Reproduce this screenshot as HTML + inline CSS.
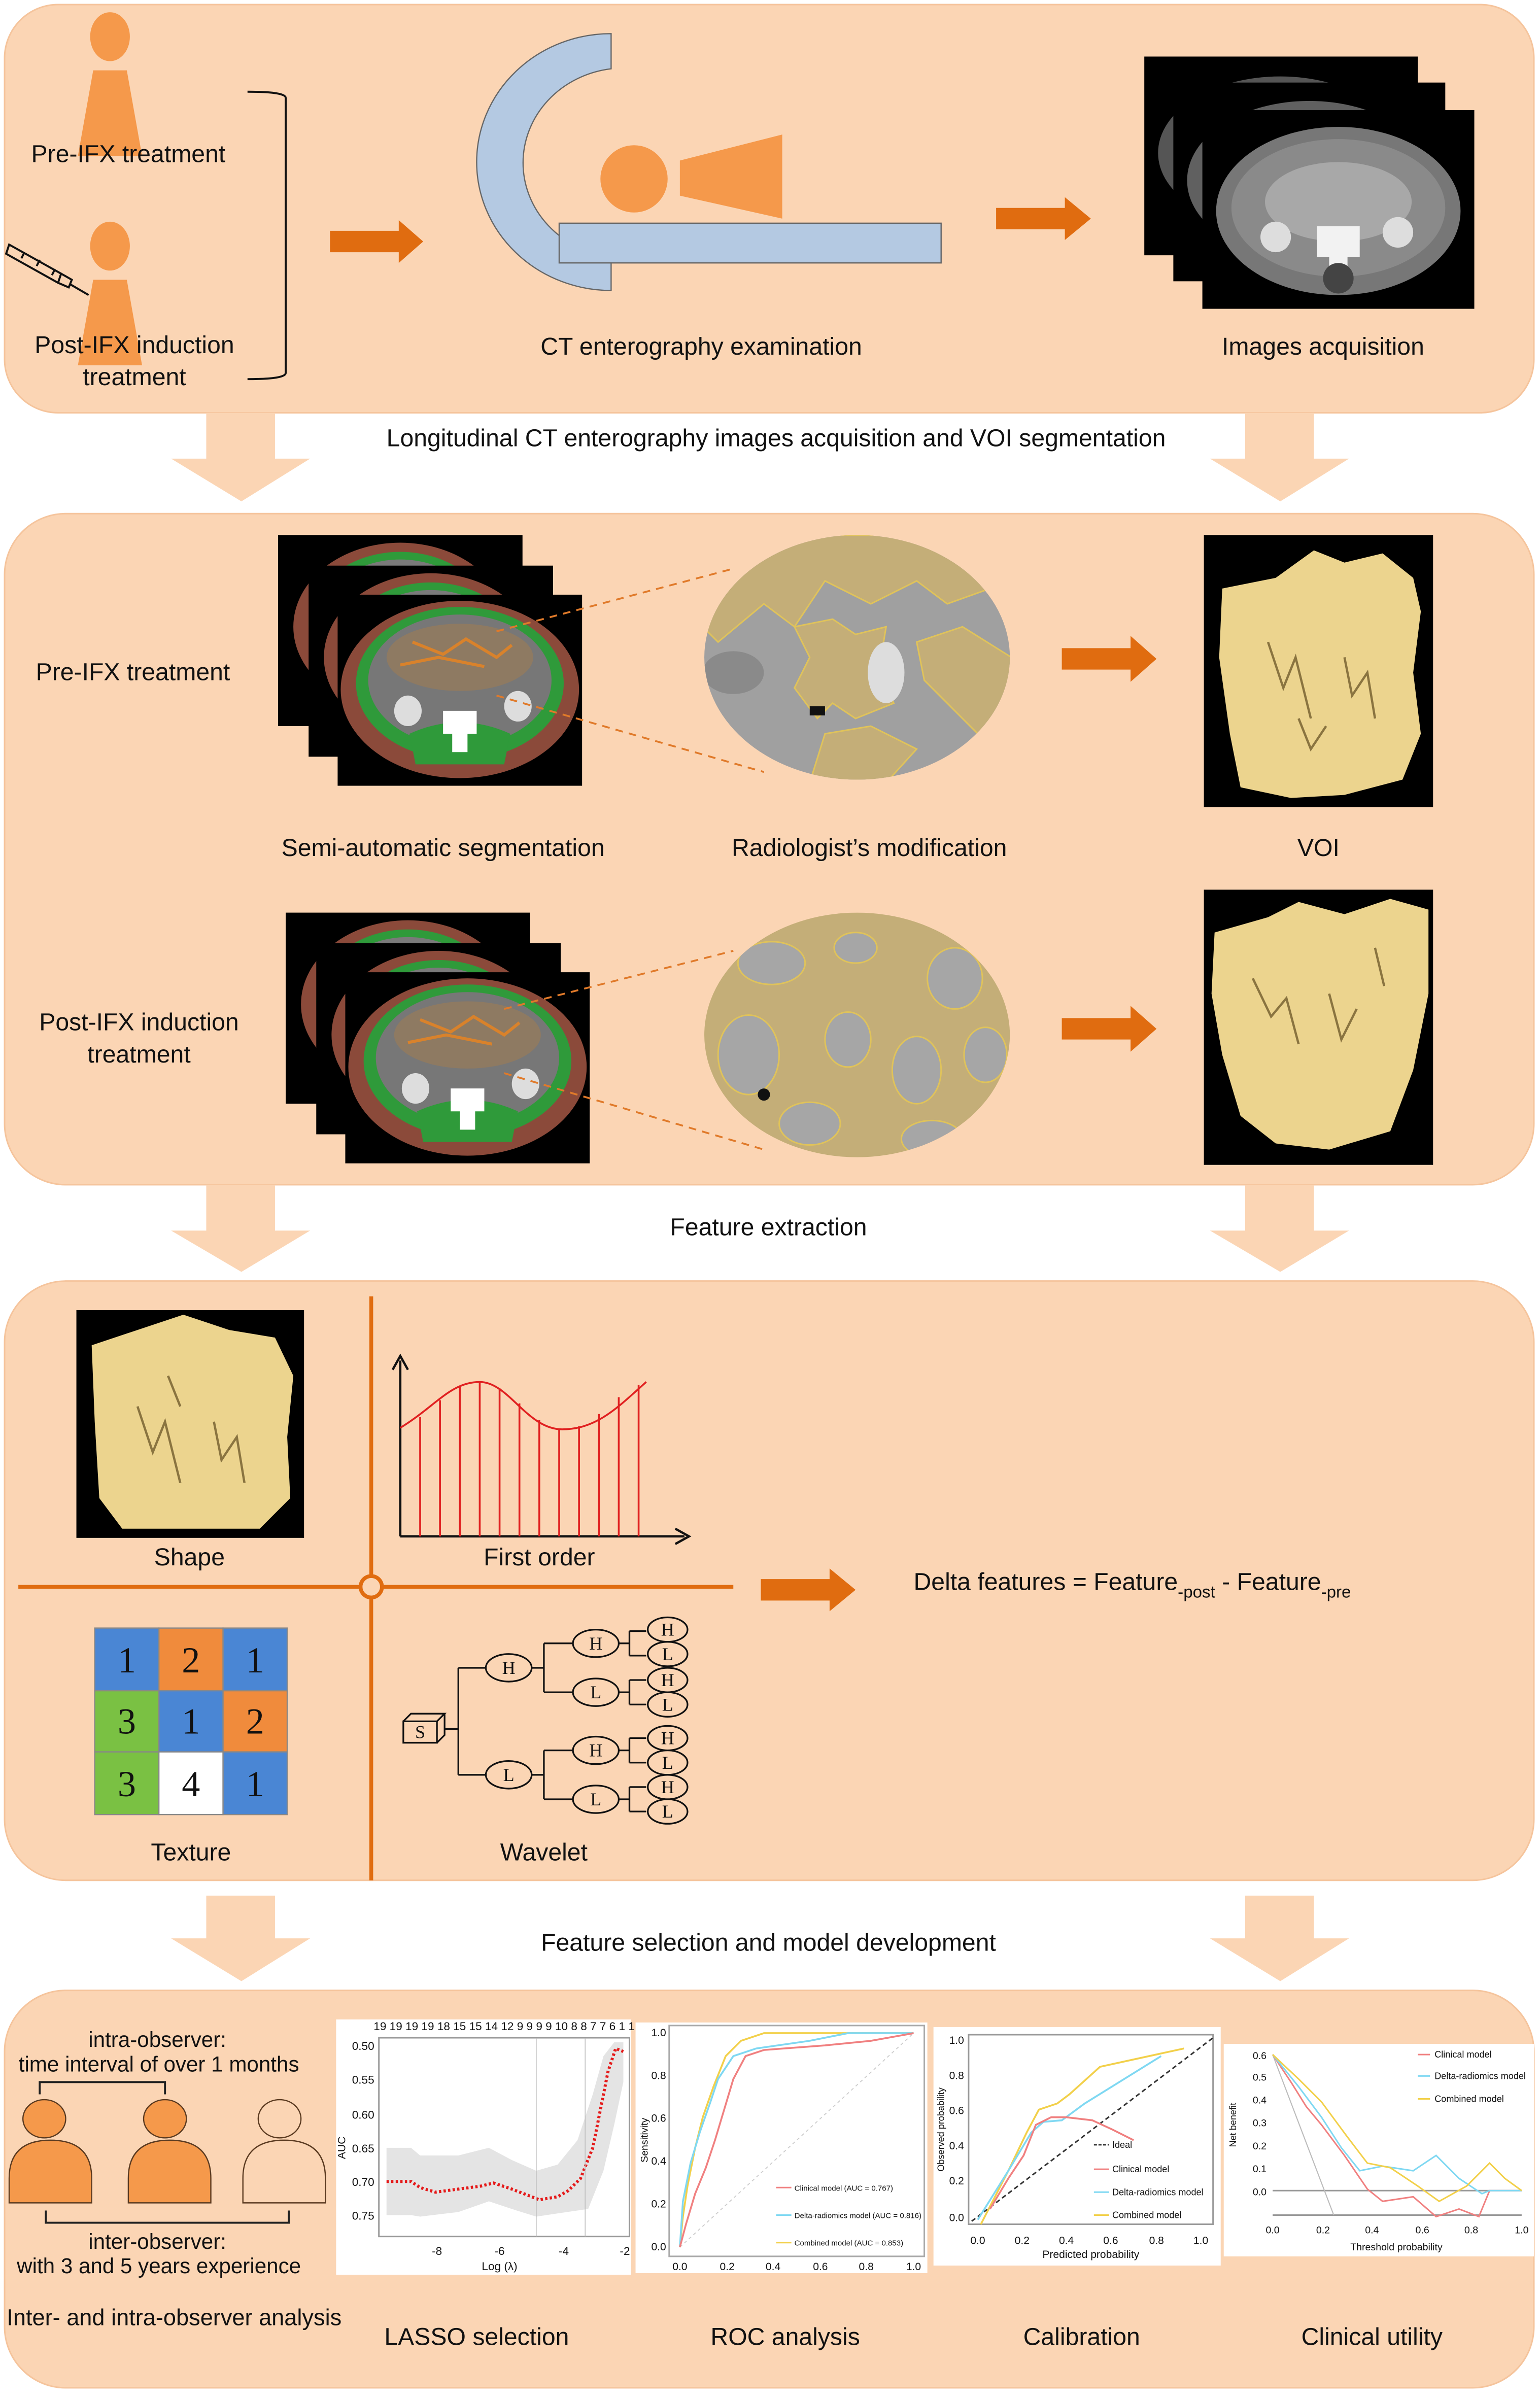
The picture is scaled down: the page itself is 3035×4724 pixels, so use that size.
<!DOCTYPE html>
<html><head><meta charset="utf-8"><style>
html,body{margin:0;padding:0;background:#fff}
svg{display:block}
text{font-family:"Liberation Sans",sans-serif;fill:#111}
.s{font-size:16px}
.t{font-family:"Liberation Serif",serif}
</style></head><body>
<svg xmlns="http://www.w3.org/2000/svg" width="3035" height="4724" viewBox="0 0 1008 1568" preserveAspectRatio="none">
<defs>
<clipPath id="ov1"><ellipse cx="561" cy="430" rx="100" ry="80"/></clipPath>
<clipPath id="ov2"><ellipse cx="561" cy="677" rx="100" ry="80"/></clipPath>
</defs>
<rect width="1008" height="1568" fill="#fff"/>
<g fill="#fbd5b4" stroke="#f5c49c" stroke-width="1">
<rect x="3" y="3" width="1001" height="267" rx="35"/>
<rect x="3" y="336" width="1001" height="439" rx="40"/>
<rect x="3" y="838" width="1001" height="392" rx="40"/>
<rect x="3" y="1302" width="1001" height="260" rx="40"/>
</g>
<g fill="#fbd5b4">
<path d="M135 270H180V300H203L158 328L112 300H135Z"/>
<path d="M815 270H860V300H883L838 328L792 300H815Z"/>
<path d="M135 775H180V805H203L158 832L112 805H135Z"/>
<path d="M815 775H860V805H883L838 832L792 805H815Z"/>
<path d="M135 1240H180V1268H203L158 1296L112 1268H135Z"/>
<path d="M815 1240H860V1268H883L838 1296L792 1268H815Z"/>
</g>
<text class="s" x="508" y="292" text-anchor="middle">Longitudinal CT enterography images acquisition and VOI segmentation</text>
<text class="s" x="503" y="808" text-anchor="middle">Feature extraction</text>
<text class="s" x="503" y="1276" text-anchor="middle">Feature selection and model development</text>

<g fill="#f5994b">
<ellipse cx="72" cy="24" rx="13" ry="16"/>
<path d="M61 46H83L93 102H51Z"/>
<ellipse cx="72" cy="161" rx="13" ry="16"/>
<path d="M61 183H83L93 239H51Z"/>
</g>
<g fill="none" stroke="#111" stroke-width="1.3">
<path d="M6 160L40 179L38 185L4 166Z"/><path d="M40 179L47 183L45 188L38 185"/><path d="M46 186L58 193"/>
<path d="M16 165l-2 4M26 170l-2 4M36 176l-2 4"/>
<path d="M162 60Q187 60 187 64V244Q187 248 162 248"/>
</g>
<text class="s" x="84" y="106" text-anchor="middle">Pre-IFX treatment</text>
<text class="s" x="88" y="231" text-anchor="middle">Post-IFX induction</text>
<text class="s" x="88" y="252" text-anchor="middle">treatment</text>
<path d="M216 151H261V144L277 158L261 172V165H216Z" fill="#e06c10"/>
<path d="M400 22A88 84 0 0 0 400 190V168A66 62 0 0 1 400 45Z" fill="#b4c9e2" stroke="#666" stroke-width="0.8"/>
<rect x="366" y="146" width="250" height="26" fill="#b4c9e2" stroke="#666" stroke-width="0.8"/>
<circle cx="415" cy="117" r="22" fill="#f5994b"/>
<path d="M445 105L512 88V143L445 128Z" fill="#f5994b"/>
<text class="s" x="459" y="232" text-anchor="middle">CT enterography examination</text>
<path d="M652 136H697V129L714 143L697 157V150H652Z" fill="#e06c10"/>
<g>
<rect x="749" y="37" width="179" height="130" fill="#000"/>
<ellipse cx="838" cy="100" rx="80" ry="50" fill="#555"/>
<rect x="768" y="54" width="178" height="130" fill="#000"/>
<ellipse cx="857" cy="118" rx="80" ry="52" fill="#606060"/>
<rect x="787" y="72" width="178" height="130" fill="#000"/>
<ellipse cx="876" cy="138" rx="80" ry="55" fill="#777"/>
<ellipse cx="876" cy="136" rx="70" ry="45" fill="#8a8a8a"/>
<ellipse cx="876" cy="132" rx="48" ry="26" fill="#a8a8a8"/>
<circle cx="835" cy="155" r="10" fill="#ddd"/><circle cx="915" cy="152" r="10" fill="#ddd"/>
<path d="M862 148h28v20h-8v10h-12v-10h-8z" fill="#f2f2f2"/>
<circle cx="876" cy="182" r="10" fill="#444"/>
</g>
<text class="s" x="866" y="232" text-anchor="middle">Images acquisition</text>

<text class="s" x="87" y="445" text-anchor="middle">Pre-IFX treatment</text>
<text class="s" x="91" y="674" text-anchor="middle">Post-IFX induction</text>
<text class="s" x="91" y="695" text-anchor="middle">treatment</text>
<g id="seg">
<rect x="182" y="350" width="160" height="125" fill="#000"/>
<ellipse cx="262" cy="410" rx="70" ry="55" fill="#8b4a3a"/><ellipse cx="262" cy="408" rx="60" ry="47" fill="#2f9a3a"/><ellipse cx="262" cy="408" rx="54" ry="42" fill="#7a7a7a"/>
<rect x="202" y="370" width="160" height="125" fill="#000"/>
<ellipse cx="282" cy="430" rx="70" ry="55" fill="#8b4a3a"/><ellipse cx="282" cy="428" rx="60" ry="47" fill="#2f9a3a"/><ellipse cx="282" cy="428" rx="54" ry="42" fill="#7a7a7a"/>
<rect x="221" y="389" width="160" height="125" fill="#000"/>
<ellipse cx="301" cy="451" rx="78" ry="58" fill="#8b4a3a"/>
<ellipse cx="301" cy="447" rx="68" ry="50" fill="#2f9a3a"/>
<ellipse cx="301" cy="445" rx="60" ry="43" fill="#777"/>
<ellipse cx="301" cy="430" rx="48" ry="22" fill="#8e7a62"/>
<path d="M270 420l20 8 15-10 20 12 10-8M262 435l25-5 30 6" stroke="#d9822b" stroke-width="2" fill="none"/>
<ellipse cx="267" cy="465" rx="9" ry="10" fill="#ddd"/><ellipse cx="339" cy="462" rx="9" ry="10" fill="#ddd"/>
<path d="M268 480Q301 465 334 480L330 500H272Z" fill="#2f9a3a"/>
<path d="M290 465h22v15h-6v12h-10v-12h-6z" fill="#fff"/>
</g>
<use href="#seg" transform="translate(5 247)"/>
<g stroke="#e07a2a" stroke-dasharray="5 4" stroke-width="1.2" fill="none">
<path d="M325 413L480 372M325 455L500 505"/>
<path d="M330 660L480 622M330 702L500 752"/>
</g>
<g clip-path="url(#ov1)">
<rect x="460" y="350" width="202" height="162" fill="#a0a0a0"/>
<path d="M460 350H662V380L620 395L600 380L570 395L540 380L520 410L500 395L470 420L460 410Z" fill="#c4ae78" stroke="#e0c35a"/>
<path d="M520 410L545 405L560 415L580 410L575 440L585 460L560 470L545 460L535 470L520 450L530 430Z" fill="#c4ae78" stroke="#e0c35a"/>
<path d="M600 420L630 410L662 430V470L640 480L620 460L605 445Z" fill="#c4ae78" stroke="#e0c35a"/>
<path d="M540 480L570 475L600 490L580 512H530Z" fill="#c4ae78" stroke="#e0c35a"/>
<ellipse cx="580" cy="440" rx="12" ry="20" fill="#ddd"/><ellipse cx="480" cy="440" rx="20" ry="14" fill="#8a8a8a"/>
<rect x="530" y="462" width="10" height="6" fill="#111"/>
</g>
<g clip-path="url(#ov2)">
<rect x="460" y="597" width="202" height="162" fill="#c4ae78"/>
<g fill="#a6a6a6" stroke="#e0c35a">
<ellipse cx="505" cy="630" rx="22" ry="14"/><ellipse cx="560" cy="620" rx="14" ry="10"/><ellipse cx="625" cy="640" rx="18" ry="20"/>
<ellipse cx="490" cy="690" rx="20" ry="26"/><ellipse cx="555" cy="680" rx="15" ry="18"/><ellipse cx="600" cy="700" rx="16" ry="22"/>
<ellipse cx="645" cy="690" rx="14" ry="18"/><ellipse cx="530" cy="735" rx="20" ry="14"/><ellipse cx="610" cy="745" rx="20" ry="12"/>
</g>
<circle cx="500" cy="716" r="4" fill="#111"/>
</g>
<path d="M695 424H740V416L757 431L740 446V438H695Z" fill="#e06c10"/>
<path d="M695 666H740V658L757 673L740 688V680H695Z" fill="#e06c10"/>
<rect x="788" y="350" width="150" height="178" fill="#000"/>
<path d="M800 385L835 378L860 360L880 368L905 362L925 378L930 400L925 440L930 480L918 510L880 520L845 522L812 515L805 480L798 430Z" fill="#ecd48e"/>
<path d="M830 420l10 30 8-20 10 40M880 430l5 25 10-15 5 30M850 470l8 20 10-15" stroke="#8a7440" stroke-width="1.5" fill="none"/>
<text class="s" x="290" y="560" text-anchor="middle">Semi-automatic segmentation</text>
<text class="s" x="569" y="560" text-anchor="middle">Radiologist’s modification</text>
<text class="s" x="863" y="560" text-anchor="middle">VOI</text>
<rect x="788" y="582" width="150" height="180" fill="#000"/>
<path d="M795 610L830 600L850 590L880 598L910 588L935 595L935 650L925 700L910 740L870 752L835 748L812 730L800 690L793 650Z" fill="#ecd48e"/>
<path d="M820 640l12 25 10-12 8 30M870 650l8 30 10-20M900 620l6 25" stroke="#8a7440" stroke-width="1.5" fill="none"/>

<g stroke="#e06c10" stroke-width="2.5" fill="none">
<path d="M243 848V1031M243 1045V1230M12 1038H236M250 1038H480"/>
<circle cx="243" cy="1038" r="7"/>
</g>
<rect x="50" y="857" width="149" height="149" fill="#000"/>
<path d="M60 880L90 870L120 860L150 870L180 875L192 900L188 940L190 980L170 1000H80L65 980L62 930Z" fill="#ecd48e"/>
<path d="M90 920l10 30 8-20 10 40M140 930l5 25 10-15 5 30M110 900l8 20" stroke="#8a7440" stroke-width="1.5" fill="none"/>
<text class="s" x="124" y="1024" text-anchor="middle">Shape</text>
<g stroke="#111" stroke-width="1.5" fill="none">
<path d="M262 1005V890M257 896L262 887L267 896M262 1005H448M442 1000L451 1005L442 1010"/>
</g>
<g stroke="#e02020" stroke-width="1.2" fill="none">
<path d="M262 934C285 920 295 904 314 904S345 935 368 935S405 920 423 904"/>
<path d="M275 927V1005M288 916V1005M301 907V1005M314 904V1005M327 908V1005M340 918V1005M353 929V1005M366 935V1005M379 933V1005M392 925V1005M405 914V1005M418 906V1005"/>
</g>
<text class="s" x="353" y="1024" text-anchor="middle">First order</text>
<path d="M498 1033H543V1026L560 1040L543 1054V1047H498Z" fill="#e06c10"/>
<text class="s" x="598" y="1040">Delta features = Feature<tspan font-size="11" dy="5">-post</tspan><tspan dy="-5"> - Feature</tspan><tspan font-size="11" dy="5">-pre</tspan></text>
<g stroke="#888" stroke-width="0.8">
<rect x="62" y="1065" width="42" height="41" fill="#4a86d4"/><rect x="104" y="1065" width="42" height="41" fill="#f08b3c"/><rect x="146" y="1065" width="42" height="41" fill="#4a86d4"/>
<rect x="62" y="1106" width="42" height="40" fill="#7ac143"/><rect x="104" y="1106" width="42" height="40" fill="#4a86d4"/><rect x="146" y="1106" width="42" height="40" fill="#f08b3c"/>
<rect x="62" y="1146" width="42" height="41" fill="#7ac143"/><rect x="104" y="1146" width="42" height="41" fill="#fff"/><rect x="146" y="1146" width="42" height="41" fill="#4a86d4"/>
</g>
<g font-size="24" text-anchor="middle">
<text class="t" x="83" y="1094">1</text><text class="t" x="125" y="1094">2</text><text class="t" x="167" y="1094">1</text>
<text class="t" x="83" y="1134">3</text><text class="t" x="125" y="1134">1</text><text class="t" x="167" y="1134">2</text>
<text class="t" x="83" y="1175">3</text><text class="t" x="125" y="1175">4</text><text class="t" x="167" y="1175">1</text>
</g>
<text class="s" x="125" y="1217" text-anchor="middle">Texture</text>
<g stroke="#111" stroke-width="1.1" fill="none">
<path d="M264 1126h22v14h-22zM264 1126l5-5h22l-5 5M286 1140l5-5v-14"/>
<path d="M291 1131H300M300 1091V1161M300 1091H318M300 1161H318M348 1091H356M356 1075V1107M356 1075H375M356 1107H375M348 1161H356M356 1145V1177M356 1145H375M356 1177H375"/>
<path d="M405 1075H412M412 1067V1083M412 1067H423M412 1083H423"/>
<path d="M405 1107H412M412 1099V1115M412 1099H423M412 1115H423"/>
<path d="M405 1145H412M412 1137V1153M412 1137H423M412 1153H423"/>
<path d="M405 1177H412M412 1169V1185M412 1169H423M412 1185H423"/>
<g fill="#fbd5b4">
<ellipse cx="333" cy="1091" rx="15" ry="9"/><ellipse cx="333" cy="1161" rx="15" ry="9"/>
<ellipse cx="390" cy="1075" rx="15" ry="9"/><ellipse cx="390" cy="1107" rx="15" ry="9"/>
<ellipse cx="390" cy="1145" rx="15" ry="9"/><ellipse cx="390" cy="1177" rx="15" ry="9"/>
<ellipse cx="437" cy="1066" rx="13" ry="8"/><ellipse cx="437" cy="1082" rx="13" ry="8"/>
<ellipse cx="437" cy="1099" rx="13" ry="8"/><ellipse cx="437" cy="1115" rx="13" ry="8"/>
<ellipse cx="437" cy="1137" rx="13" ry="8"/><ellipse cx="437" cy="1153" rx="13" ry="8"/>
<ellipse cx="437" cy="1169" rx="13" ry="8"/><ellipse cx="437" cy="1185" rx="13" ry="8"/>
</g></g>
<g font-size="12" text-anchor="middle">
<text class="t" x="275" y="1137">S</text>
<text class="t" x="333" y="1095">H</text><text class="t" x="333" y="1165">L</text>
<text class="t" x="390" y="1079">H</text><text class="t" x="390" y="1111">L</text><text class="t" x="390" y="1149">H</text><text class="t" x="390" y="1181">L</text>
<text class="t" x="437" y="1070">H</text><text class="t" x="437" y="1086">L</text><text class="t" x="437" y="1103">H</text><text class="t" x="437" y="1119">L</text>
<text class="t" x="437" y="1141">H</text><text class="t" x="437" y="1157">L</text><text class="t" x="437" y="1173">H</text><text class="t" x="437" y="1189">L</text>
</g>
<text class="s" x="356" y="1217" text-anchor="middle">Wavelet</text>

<text font-size="14" x="103" y="1339" text-anchor="middle">intra-observer:</text>
<text font-size="14" x="104" y="1355" text-anchor="middle">time interval of over 1 months</text>
<path d="M26 1370V1362H108V1370" stroke="#222" stroke-width="1.3" fill="none"/>
<g stroke="#5a3a20" stroke-width="0.8">
<ellipse cx="29" cy="1386" rx="14" ry="12.5" fill="#f5994b"/><ellipse cx="108" cy="1386" rx="14" ry="12.5" fill="#f5994b"/><ellipse cx="183" cy="1386" rx="14" ry="12.5" fill="#fbd5b4"/>
<path d="M6 1441V1425Q6 1400 33 1400Q60 1400 60 1425V1441Z" fill="#f5994b"/>
<path d="M84 1441V1425Q84 1400 111 1400Q138 1400 138 1425V1441Z" fill="#f5994b"/>
<path d="M159 1441V1425Q159 1400 186 1400Q213 1400 213 1425V1441Z" fill="#fbd5b4"/>
</g>
<path d="M30 1446V1454H189V1446" stroke="#222" stroke-width="1.3" fill="none"/>
<text font-size="14" x="103" y="1471" text-anchor="middle">inter-observer:</text>
<text font-size="14" x="104" y="1487" text-anchor="middle">with 3 and 5 years experience</text>
<text font-size="15" x="114" y="1521" text-anchor="middle">Inter- and intra-observer analysis</text>
<!-- LASSO -->
<rect x="220" y="1321" width="193" height="167" fill="#fff"/>
<rect x="248" y="1333" width="164" height="130" fill="none" stroke="#999"/>
<path d="M253 1405H269L275 1410L300 1410L320 1405L335 1413L351 1420L365 1416L378 1400L388 1370L395 1345L402 1336L408 1336L408 1362L402 1390L395 1420L385 1445L371 1447L351 1450L335 1445L320 1440L300 1447L275 1450L269 1449H253Z" fill="#e4e4e4"/>
<path d="M253 1427H269L275 1431L285 1434L300 1432L315 1430L323 1428L335 1432L348 1437L353 1439L365 1437L372 1433L380 1425L388 1405L393 1380L398 1355L403 1340L408 1342" stroke="#e41a1a" stroke-width="2" stroke-dasharray="1.5 1.5" fill="none"/>
<path d="M351 1333V1463M383 1333V1463" stroke="#bbb" stroke-width="0.5"/>
<g font-size="7.5" text-anchor="end"><text x="245" y="1341">0.50</text><text x="245" y="1363">0.55</text><text x="245" y="1386">0.60</text><text x="245" y="1408">0.65</text><text x="245" y="1430">0.70</text><text x="245" y="1452">0.75</text></g>
<g font-size="7.5" text-anchor="middle"><text x="286" y="1475">-8</text><text x="327" y="1475">-6</text><text x="369" y="1475">-4</text><text x="409" y="1475">-2</text><text x="327" y="1485">Log (λ)</text></g>
<text font-size="7.5" x="330" y="1328" text-anchor="middle">19 19 19 19 18 15 15 14 12  9  9  9  9 10 8 8 7 7 6 1 1</text>
<text font-size="7" transform="translate(226 1405) rotate(-90)" text-anchor="middle">AUC</text>
<!-- ROC -->
<rect x="416" y="1323" width="191" height="164" fill="#fff"/>
<rect x="438" y="1325" width="167" height="151" fill="none" stroke="#aaa"/>
<path d="M445 1470L598 1330" stroke="#ccc" stroke-dasharray="2 2" stroke-width="0.6"/>
<path d="M445 1470L447 1450L450 1430L455 1405L460 1385L467 1365L475 1345L485 1335L500 1330L598 1330" stroke="#f2d04a" fill="none" stroke-width="1.2"/>
<path d="M445 1470L447 1440L452 1415L458 1395L465 1375L470 1360L480 1345L495 1340L530 1335L555 1330L598 1330" stroke="#7fd8f2" fill="none" stroke-width="1.2"/>
<path d="M445 1470L449 1455L455 1435L462 1418L468 1400L474 1380L480 1360L488 1345L500 1341L540 1338L570 1335L598 1330" stroke="#f08080" fill="none" stroke-width="1.2"/>
<g font-size="7" text-anchor="end"><text x="436" y="1332">1.0</text><text x="436" y="1360">0.8</text><text x="436" y="1388">0.6</text><text x="436" y="1416">0.4</text><text x="436" y="1444">0.2</text><text x="436" y="1472">0.0</text></g>
<g font-size="7" text-anchor="middle"><text x="445" y="1485">0.0</text><text x="476" y="1485">0.2</text><text x="506" y="1485">0.4</text><text x="537" y="1485">0.6</text><text x="567" y="1485">0.8</text><text x="598" y="1485">1.0</text></g>
<text font-size="6.5" transform="translate(424 1400) rotate(-90)" text-anchor="middle">Sensitivity</text>
<g font-size="5"><path d="M508 1431h10" stroke="#f08080"/><text x="520" y="1433">Clinical model (AUC = 0.767)</text>
<path d="M508 1449h10" stroke="#7fd8f2"/><text x="520" y="1451">Delta-radiomics model (AUC = 0.816)</text>
<path d="M508 1467h10" stroke="#f2d04a"/><text x="520" y="1469">Combined model (AUC = 0.853)</text></g>
<!-- Calibration -->
<rect x="611" y="1326" width="188" height="156" fill="#fff"/>
<rect x="634" y="1331" width="160" height="124" fill="none" stroke="#999"/>
<path d="M636 1453L794 1333" stroke="#333" stroke-dasharray="3 2"/>
<path d="M642 1455L660 1420L672 1395L680 1380L692 1376L700 1370L720 1352L775 1340" stroke="#f2d04a" fill="none" stroke-width="1.2"/>
<path d="M640 1452L660 1420L675 1395L683 1388L695 1387L710 1376L760 1345" stroke="#7fd8f2" fill="none" stroke-width="1.2"/>
<path d="M648 1445L660 1425L670 1410L678 1390L688 1385L698 1385L715 1387L728 1393L742 1400" stroke="#f08080" fill="none" stroke-width="1.2"/>
<g font-size="7" text-anchor="end"><text x="631" y="1337">1.0</text><text x="631" y="1360">0.8</text><text x="631" y="1383">0.6</text><text x="631" y="1406">0.4</text><text x="631" y="1429">0.2</text><text x="631" y="1453">0.0</text></g>
<g font-size="7" text-anchor="middle"><text x="640" y="1468">0.0</text><text x="669" y="1468">0.2</text><text x="698" y="1468">0.4</text><text x="727" y="1468">0.6</text><text x="757" y="1468">0.8</text><text x="786" y="1468">1.0</text><text x="714" y="1477">Predicted probability</text></g>
<text font-size="6" transform="translate(618 1393) rotate(-90)" text-anchor="middle">Observed probability</text>
<g font-size="6"><path d="M716 1403h10" stroke="#333" stroke-dasharray="2 1"/><text x="728" y="1405">Ideal</text>
<path d="M716 1419h10" stroke="#f08080"/><text x="728" y="1421">Clinical model</text>
<path d="M716 1434h10" stroke="#7fd8f2"/><text x="728" y="1436">Delta-radiomics model</text>
<path d="M716 1449h10" stroke="#f2d04a"/><text x="728" y="1451">Combined model</text></g>
<!-- DCA -->
<rect x="801" y="1337" width="203" height="139" fill="#fff"/>
<path d="M833 1433H996M833 1449H996" stroke="#999"/>
<path d="M833 1344L873 1449" stroke="#bbb" stroke-width="0.7"/>
<path d="M833 1344L845 1362L855 1378L865 1390L880 1410L895 1432L905 1440L925 1437L940 1450L955 1445L968 1450L975 1433L996 1433" stroke="#f08080" fill="none" stroke-width="1"/>
<path d="M833 1344L850 1365L865 1385L878 1405L890 1420L905 1417L925 1420L940 1410L955 1425L970 1435L975 1433L996 1433" stroke="#7fd8f2" fill="none" stroke-width="1"/>
<path d="M833 1344L850 1360L865 1375L882 1398L895 1415L910 1418L928 1430L942 1440L960 1430L975 1415L985 1425L996 1433" stroke="#f2d04a" fill="none" stroke-width="1"/>
<g font-size="6.5" text-anchor="end"><text x="829" y="1347">0.6</text><text x="829" y="1361">0.5</text><text x="829" y="1376">0.4</text><text x="829" y="1391">0.3</text><text x="829" y="1406">0.2</text><text x="829" y="1421">0.1</text><text x="829" y="1436">0.0</text></g>
<g font-size="6.5" text-anchor="middle"><text x="833" y="1461">0.0</text><text x="866" y="1461">0.2</text><text x="898" y="1461">0.4</text><text x="931" y="1461">0.6</text><text x="963" y="1461">0.8</text><text x="996" y="1461">1.0</text><text x="914" y="1472">Threshold probability</text></g>
<text font-size="6" transform="translate(809 1390) rotate(-90)" text-anchor="middle">Net benefit</text>
<g font-size="6"><path d="M928 1344h8" stroke="#f08080"/><text x="939" y="1346">Clinical model</text>
<path d="M928 1358h8" stroke="#7fd8f2"/><text x="939" y="1360">Delta-radiomics model</text>
<path d="M928 1373h8" stroke="#f2d04a"/><text x="939" y="1375">Combined model</text></g>
<text class="s" x="312" y="1534" text-anchor="middle">LASSO selection</text>
<text class="s" x="514" y="1534" text-anchor="middle">ROC analysis</text>
<text class="s" x="708" y="1534" text-anchor="middle">Calibration</text>
<text class="s" x="898" y="1534" text-anchor="middle">Clinical utility</text>
</svg>
</body></html>
